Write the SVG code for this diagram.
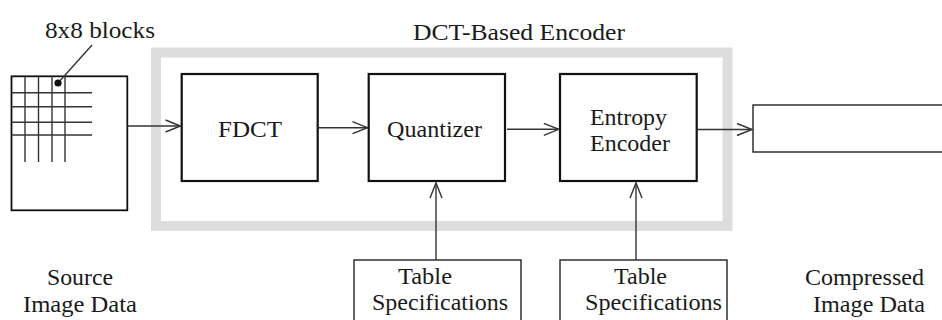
<svg xmlns="http://www.w3.org/2000/svg" width="942" height="320" viewBox="0 0 942 320">
<defs>
<style>
text{font-family:"Liberation Serif","Times New Roman",Tinos,"DejaVu Serif","Noto Serif",serif;fill:#1a1a1a;font-size:24px}
.box{fill:#fff;stroke:#111;stroke-width:2.2}
.thin{fill:#fff;stroke:#222;stroke-width:1.4}
.ln{stroke:#333;stroke-width:1.4;fill:none}
.conn{stroke:#333;stroke-width:1.4;fill:none;marker-end:url(#ah)}
</style>
<marker id="ah" markerUnits="userSpaceOnUse" markerWidth="18" markerHeight="14" refX="15" refY="6" orient="auto" overflow="visible">
<path d="M0,0 L15,6 L0,12" fill="none" stroke="#333" stroke-width="1.4"/>
</marker>
</defs>
<rect width="942" height="320" fill="#fff"/>

<g id="encoder-frame">
<rect x="156" y="52.5" width="571.5" height="173.5" fill="none" stroke="#dddddd" stroke-width="10"/>
<text x="413" y="40" font-size="27" textLength="212" lengthAdjust="spacingAndGlyphs">DCT-Based Encoder</text>
</g>

<g id="source">
<rect x="11.5" y="76.3" width="115.8" height="134" fill="#fff" stroke="#111" stroke-width="1.8"/>
<g class="ln">
<line x1="25" y1="76.3" x2="25" y2="162"/>
<line x1="38.5" y1="76.3" x2="38.5" y2="162"/>
<line x1="52" y1="76.3" x2="52" y2="162"/>
<line x1="65" y1="76.3" x2="65" y2="162"/>
<line x1="11.5" y1="92.7" x2="92" y2="92.7"/>
<line x1="11.5" y1="106.7" x2="92" y2="106.7"/>
<line x1="11.5" y1="122.3" x2="92" y2="122.3"/>
<line x1="11.5" y1="135" x2="92" y2="135"/>
<line x1="58" y1="83" x2="92" y2="45"/>
</g>
<circle cx="58" cy="83" r="3.6" fill="#111"/>
<text x="45" y="38" font-size="23" textLength="110" lengthAdjust="spacingAndGlyphs">8x8 blocks</text>
<text x="47" y="285" font-size="25" textLength="66" lengthAdjust="spacingAndGlyphs">Source</text>
<text x="23" y="312" font-size="25" textLength="114" lengthAdjust="spacingAndGlyphs">Image Data</text>
</g>

<g id="fdct">
<rect class="box" x="181.7" y="74" width="136" height="107"/>
<text x="218" y="137" font-size="28" textLength="64" lengthAdjust="spacingAndGlyphs">FDCT</text>
</g>

<g id="quantizer">
<rect class="box" x="368.7" y="74" width="136.3" height="107"/>
<text x="387" y="137" font-size="26" textLength="95" lengthAdjust="spacingAndGlyphs">Quantizer</text>
</g>

<g id="entropy">
<rect class="box" x="560" y="74" width="136.7" height="107"/>
<text x="590" y="125" textLength="77" lengthAdjust="spacingAndGlyphs">Entropy</text>
<text x="590" y="151" textLength="80" lengthAdjust="spacingAndGlyphs">Encoder</text>
</g>

<g id="output">
<rect class="thin" x="753" y="105" width="200" height="47"/>
<text x="805" y="285" font-size="25" textLength="119" lengthAdjust="spacingAndGlyphs">Compressed</text>
<text x="813" y="312" font-size="25" textLength="112" lengthAdjust="spacingAndGlyphs">Image Data</text>
</g>

<g id="table1">
<rect class="thin" x="354" y="260" width="167" height="80"/>
<text x="398" y="284" textLength="54" lengthAdjust="spacingAndGlyphs">Table</text>
<text x="372" y="310" textLength="136" lengthAdjust="spacingAndGlyphs">Specifications</text>
</g>

<g id="table2">
<rect class="thin" x="560" y="260" width="167" height="80"/>
<text x="614" y="284" textLength="53" lengthAdjust="spacingAndGlyphs">Table</text>
<text x="585" y="310" textLength="137" lengthAdjust="spacingAndGlyphs">Specifications</text>
</g>

<g id="connectors">
<line class="conn" x1="127.3" y1="126" x2="180.5" y2="126"/>
<line class="conn" x1="317.7" y1="127.7" x2="367.5" y2="127.7"/>
<line class="conn" x1="507" y1="129.3" x2="558.8" y2="129.3"/>
<line class="conn" x1="696.7" y1="129.5" x2="752" y2="129.5"/>
<line class="conn" x1="436" y1="260" x2="436" y2="183"/>
<line class="conn" x1="636" y1="260" x2="636" y2="183"/>
</g>
</svg>
